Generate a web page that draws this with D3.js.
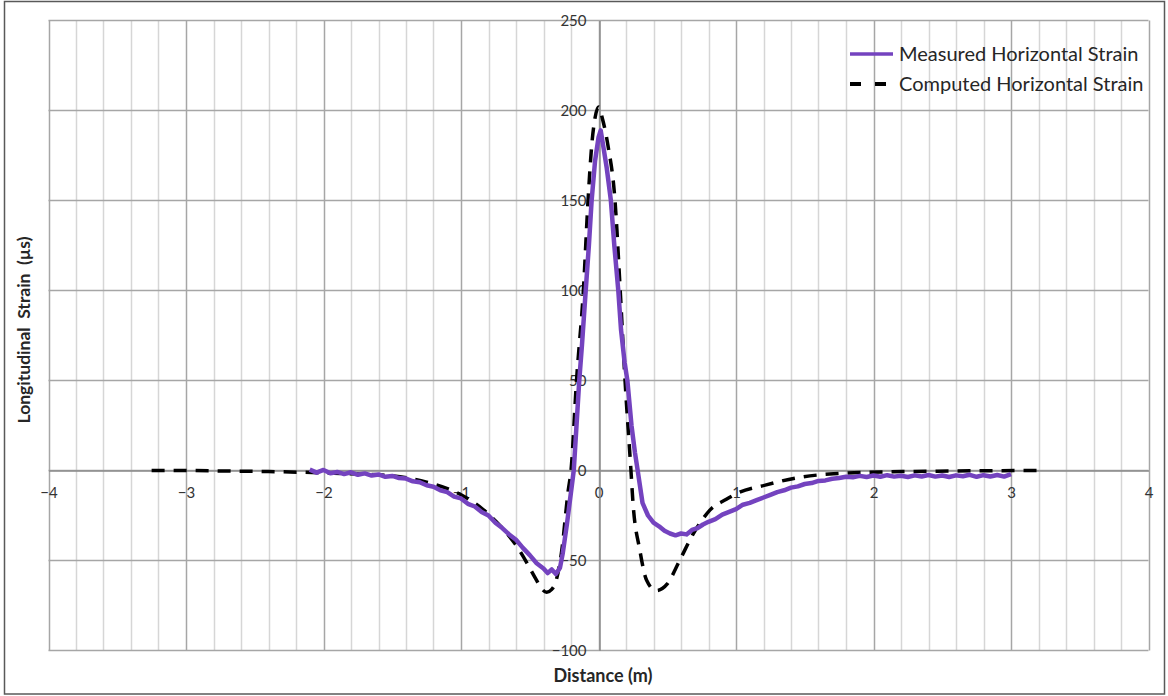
<!DOCTYPE html>
<html>
<head>
<meta charset="utf-8">
<script src="https://cdn.jsdelivr.net/npm/d3@7"></script>
<style>
body { margin: 0; background: #fff; }
</style>
</head>
<body>
<script>
//Width and Height constants
var W = 1168, H = 696;

//Measured horizontal strain (noisy gauge record), x in m, y in microstrain
var measX = [-2.10, -2.05, -2.00, -1.95, -1.90, -1.85, -1.80, -1.75, -1.70, -1.65,
	-1.60, -1.55, -1.50, -1.45, -1.40, -1.35, -1.30, -1.25, -1.20, -1.15,
	-1.10, -1.05, -1.00, -0.95, -0.90, -0.85, -0.80, -0.75, -0.70, -0.65,
	-0.60, -0.55, -0.50, -0.45, -0.40, -0.37, -0.34, -0.31, -0.28, -0.26,
	-0.23, -0.20, -0.18, -0.16, -0.14, -0.12, -0.093, -0.07, -0.05, -0.025,
	0.00, 0.016, 0.035, 0.06, 0.09, 0.115, 0.144, 0.164, 0.19, 0.21,
	0.24, 0.265, 0.285, 0.32, 0.36, 0.40, 0.44, 0.48, 0.52, 0.56,
	0.60, 0.64, 0.68, 0.72, 0.76, 0.80, 0.85, 0.90, 0.95, 1.00,
	1.05, 1.10, 1.15, 1.20, 1.25, 1.30, 1.35, 1.40, 1.45, 1.50,
	1.55, 1.60, 1.65, 1.70, 1.75, 1.80, 1.85, 1.90, 1.95, 2.00,
	2.05, 2.10, 2.15, 2.20, 2.25, 2.30, 2.35, 2.40, 2.45, 2.50,
	2.55, 2.60, 2.65, 2.70, 2.75, 2.80, 2.85, 2.90, 2.95, 3.00];
var measY = [0.5, -1.2, 0.3, -1.5, -0.8, -2.0, -1.0, -2.4, -1.6, -2.8,
	-2.2, -3.5, -3.0, -4.2, -4.5, -6.0, -6.5, -8.2, -9.0, -11.0,
	-12.0, -14.5, -15.5, -18.5, -20.0, -23.0, -25.0, -29.0, -32.0, -35.5,
	-38.5, -43.0, -47.0, -51.5, -54.5, -57.0, -55.0, -57.5, -54.0, -46.0,
	-30.0, -12.0, 0.0, 25, 50, 70, 100, 125, 150, 172,
	185, 189, 180, 168, 150, 125, 100, 78, 60, 50,
	25, 10, 0, -18, -25, -29, -31, -33.5, -35, -36,
	-35, -35.5, -33, -32, -30, -28.5, -27, -24.5, -23, -21.5,
	-19, -18, -16.5, -15, -13.5, -12, -11, -9.5, -8.8, -7.5,
	-7.0, -5.8, -5.5, -4.6, -4.2, -3.5, -3.8, -3.0, -3.6, -2.8,
	-3.5, -2.6, -3.4, -2.9, -3.6, -2.7, -3.3, -2.5, -3.4, -2.8,
	-3.6, -2.7, -3.2, -2.4, -3.5, -2.6, -3.3, -2.5, -3.4, -2.0];

//Computed horizontal strain (model curve)
var compX = [-3.25, -3.00, -2.70, -2.40, -2.00, -1.75, -1.50, -1.25, -1.00, -0.85,
	-0.74, -0.59, -0.45, -0.42, -0.377, -0.34, -0.316, -0.27, -0.22, -0.20,
	-0.16, -0.11, -0.076, -0.05, -0.025, 0.00, 0.03, 0.07, 0.12, 0.158,
	0.193, 0.236, 0.25, 0.30, 0.35, 0.42, 0.50, 0.59, 0.69, 0.74,
	0.81, 0.93, 1.00, 1.22, 1.47, 1.71, 1.95, 2.30, 2.70, 3.23];
var compY = [0, 0, -0.3, -0.6, -1.3, -2, -3, -6.5, -13.5, -21,
	-28.7, -42.6, -61, -65, -67.6, -66, -63, -46, -11, 0,
	50, 100, 150, 180, 196, 202, 195, 180, 150, 100,
	50, 0, -17, -44, -61, -66.7, -63, -50, -35, -29,
	-22, -16, -13, -8, -3.7, -1.8, -1, -0.5, -0.2, 0];

//Axis ticks and labels
var xTicks = [-4, -3, -2, -1, 0, 1, 2, 3, 4];
var yTicks = [-100, -50, 0, 50, 100, 150, 200, 250];
var seriesNames = ["Measured Horizontal Strain", "Computed Horizontal Strain"];

var measured = measX.map(function(d, i){ return [d, measY[i]]; });
var computed = compX.map(function(d, i){ return [d, compY[i]]; });

var purple = "#7443bf";
var font = "Lato, 'Open Sans', sans-serif";

var svg = d3.select("body")
	.append("svg")
	.attr("width", W)
	.attr("height", H)
	.style("font-family", font);

//outer frame
svg.append("rect")
	.attr("x", 4.5)
	.attr("y", 1.5)
	.attr("width", 1160)
	.attr("height", 692.5)
	.style("fill", "white")
	.style("stroke", "#595959")
	.style("stroke-width", 1.5);

var x = d3.scaleLinear().domain([-4, 4]).range([48.5, 1148.5]);
var y = d3.scaleLinear().domain([-100, 250]).range([650.5, 20.5]);

//minor vertical grid every 0.2, darker at whole metres
var vGrid = d3.range(-20, 21).map(function(i){ return i / 5; });
svg.append("g").selectAll("line")
	.data(vGrid)
	.enter().append("line")
	.attr("x1", function(d){ return Math.round(x(d)) + 0.5; })
	.attr("x2", function(d){ return Math.round(x(d)) + 0.5; })
	.attr("y1", y(250))
	.attr("y2", y(-100))
	.style("stroke", function(d){ return Math.abs(d - Math.round(d)) < 1e-6 ? "#a6a6a6" : "#d6d6d6"; })
	.style("stroke-width", 1.5);

svg.append("g").selectAll("line")
	.data(yTicks)
	.enter().append("line")
	.attr("x1", x(-4))
	.attr("x2", x(4))
	.attr("y1", function(d){ return y(d); })
	.attr("y2", function(d){ return y(d); })
	.style("stroke", "#a6a6a6")
	.style("stroke-width", 1.5);

//axes cross at zero
var xAxis = svg.append("g")
	.attr("transform", "translate(0," + y(0) + ")")
	.call(d3.axisBottom(x).tickValues(xTicks).tickSize(0).tickPadding(17).tickFormat(d3.format("d")));
var yAxis = svg.append("g")
	.attr("transform", "translate(" + (Math.round(x(0)) + 0.5) + ",0)")
	.call(d3.axisLeft(y).tickValues(yTicks).tickSize(0).tickPadding(13).tickFormat(d3.format("d")));

[xAxis, yAxis].forEach(function(a){
	a.select(".domain").style("stroke", "#8c8c8c").style("stroke-width", 1.5);
	a.selectAll("text")
		.style("font-family", font)
		.style("font-size", "15px")
		.style("fill", "#333");
});

//data lines
var line = d3.line()
	.x(function(d){ return x(d[0]); })
	.y(function(d){ return y(d[1]); });

svg.append("path")
	.datum(computed)
	.attr("d", line.curve(d3.curveMonotoneX))
	.style("fill", "none")
	.style("stroke", "black")
	.style("stroke-width", 3.5)
	.style("stroke-dasharray", "13,9");

svg.append("path")
	.datum(measured)
	.attr("d", line.curve(d3.curveLinear))
	.style("fill", "none")
	.style("stroke", purple)
	.style("stroke-width", 4.5)
	.style("stroke-linejoin", "round");

//legend
var legend = svg.append("g").selectAll("g")
	.data(seriesNames)
	.enter().append("g")
	.attr("transform", function(d, i){ return "translate(850," + (54 + i * 30) + ")"; });

legend.append("line")
	.attr("x1", 0)
	.attr("x2", 43)
	.style("stroke", function(d, i){ return i == 0 ? purple : "black"; })
	.style("stroke-width", function(d, i){ return i == 0 ? 3.5 : 4; })
	.style("stroke-dasharray", function(d, i){ return i == 0 ? null : "11,14"; });

legend.append("text")
	.text(function(d){ return d; })
	.attr("x", 49)
	.attr("dy", "0.35em")
	.style("font-size", "20px")
	.style("fill", "#262626");

//axis titles
svg.append("text")
	.text("Distance (m)")
	.attr("x", 603)
	.attr("y", 682)
	.attr("text-anchor", "middle")
	.style("font-weight", "bold")
	.style("font-size", "18px")
	.style("fill", "#262626");

svg.append("text")
	.text("Longitudinal  Strain  (µs)")
	.attr("transform", "translate(30,330) rotate(-90)")
	.attr("text-anchor", "middle")
	.style("white-space", "pre")
	.style("font-weight", "bold")
	.style("font-size", "17.5px")
	.style("fill", "#262626");
</script>
</body>
</html>
